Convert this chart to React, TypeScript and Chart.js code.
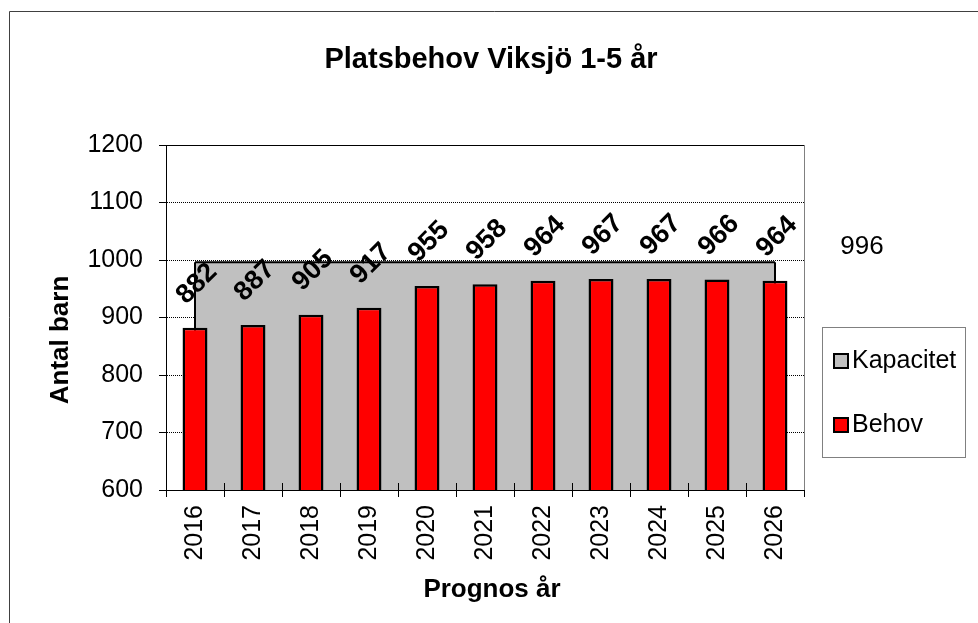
import React, { useEffect, useRef } from 'react';
import { Chart, registerables } from 'chart.js';

Chart.register(...registerables);

const FONT = '"Liberation Sans", Arial, Helvetica, sans-serif';

const chartTitle = 'Platsbehov Viksjö 1-5 år';
const xTitle = 'Prognos år';
const yTitle = 'Antal barn';
const years = ['2016', '2017', '2018', '2019', '2020', '2021', '2022', '2023', '2024', '2025', '2026'];
const behov = [882, 887, 905, 917, 955, 958, 964, 967, 967, 966, 964];
const kapacitet = [996, 996, 996, 996, 996, 996, 996, 996, 996, 996, 996];
const seriesNames = ['Kapacitet', 'Behov'];
const yMin = 600;
const yMax = 1200;
const yStep = 100;

const decor = {
  id: 'decor',
  beforeDraw(chart: any) {
    const ctx = chart.ctx;
    ctx.save();
    ctx.fillStyle = '#ffffff';
    ctx.fillRect(0, 0, chart.width, chart.height);
    ctx.strokeStyle = '#404040';
    ctx.lineWidth = 1;
    ctx.beginPath();
    ctx.moveTo(9.5, chart.height + 5);
    ctx.lineTo(9.5, 11.5);
    ctx.lineTo(chart.width + 5, 11.5);
    ctx.stroke();
    ctx.restore();
  },
  afterDatasetDraw(chart: any, args: any) {
    if (args.index !== 0) return;
    const ctx = chart.ctx;
    const pts = args.meta.data;
    const first = pts[0];
    const last = pts[pts.length - 1];
    const bottom = chart.chartArea.bottom;
    ctx.save();
    ctx.strokeStyle = '#000';
    ctx.lineWidth = 2;
    ctx.beginPath();
    ctx.moveTo(first.x, first.y);
    ctx.lineTo(first.x, bottom);
    ctx.moveTo(last.x, last.y);
    ctx.lineTo(last.x, bottom);
    ctx.stroke();
    ctx.restore();
  },
  afterDatasetsDraw(chart: any) {
    const ctx = chart.ctx;
    const area = chart.chartArea;
    ctx.save();
    // inner x tick marks
    const n = years.length;
    const step = (area.right - area.left) / n;
    ctx.strokeStyle = '#000';
    ctx.lineWidth = 1;
    ctx.beginPath();
    for (let i = 0; i <= n; i++) {
      const x = Math.round(area.left + i * step) + 0.5;
      ctx.moveTo(x, area.bottom - 7);
      ctx.lineTo(x, area.bottom);
    }
    ctx.stroke();
    // bar labels
    const meta = chart.getDatasetMeta(1);
    ctx.fillStyle = '#000';
    ctx.font = `bold 27px ${FONT}`;
    ctx.textAlign = 'center';
    ctx.textBaseline = 'middle';
    meta.data.forEach((bar: any, i: number) => {
      ctx.save();
      ctx.translate(bar.x + 2, bar.y - 44);
      ctx.rotate(-Math.PI / 4);
      ctx.fillText(String(behov[i]), 0, 0);
      ctx.restore();
    });
    // kapacitet label
    const km = chart.getDatasetMeta(0);
    const lp = km.data[km.data.length - 1];
    ctx.font = `26px ${FONT}`;
    ctx.fillText(String(kapacitet[kapacitet.length - 1]), lp.x + 87, lp.y - 15);
    ctx.restore();
  },
  afterDraw(chart: any) {
    const ctx = chart.ctx;
    const area = chart.chartArea;
    ctx.save();
    // plot frame top/right
    ctx.lineWidth = 1;
    ctx.strokeStyle = '#000';
    ctx.beginPath();
    ctx.moveTo(area.left, area.top + 0.5);
    ctx.lineTo(area.right, area.top + 0.5);
    ctx.stroke();
    ctx.strokeStyle = '#808080';
    ctx.beginPath();
    ctx.moveTo(area.right + 0.5, area.top);
    ctx.lineTo(area.right + 0.5, area.bottom);
    ctx.stroke();

    ctx.fillStyle = '#000';
    // title
    ctx.font = `bold 29px ${FONT}`;
    ctx.textAlign = 'center';
    ctx.textBaseline = 'alphabetic';
    ctx.fillText(chartTitle, 491, 68);
    // x title
    ctx.font = `bold 26px ${FONT}`;
    ctx.fillText(xTitle, 492, 597);
    // y title
    ctx.save();
    ctx.translate(68, 340);
    ctx.rotate(-Math.PI / 2);
    ctx.fillText(yTitle, 0, 0);
    ctx.restore();

    // legend
    ctx.strokeStyle = '#808080';
    ctx.lineWidth = 1;
    ctx.strokeRect(822.5, 327.5, 143, 130);
    const items = [
      { label: seriesNames[0], color: '#C0C0C0', y: 360 },
      { label: seriesNames[1], color: '#FF0000', y: 424 },
    ];
    ctx.font = `25px ${FONT}`;
    ctx.textAlign = 'left';
    ctx.textBaseline = 'middle';
    items.forEach((it) => {
      ctx.fillStyle = it.color;
      ctx.fillRect(834, it.y - 6, 14, 14);
      ctx.strokeStyle = '#000';
      ctx.lineWidth = 2;
      ctx.strokeRect(834, it.y - 6, 14, 14);
      ctx.fillStyle = '#000';
      ctx.fillText(it.label, 852, it.y + 1);
    });
    ctx.restore();
  },
};

export default function App() {
  const ref = useRef<HTMLCanvasElement | null>(null);
  useEffect(() => {
    if (!ref.current) return;
    Chart.defaults.font.family = FONT;
    const chart = new Chart(ref.current, {
      type: 'bar',
      data: {
        labels: years,
        datasets: [
          {
            type: 'line',
            label: seriesNames[0],
            data: kapacitet,
            borderColor: '#000',
            borderWidth: 2,
            backgroundColor: '#C0C0C0',
            fill: 'origin',
            pointRadius: 0,
            tension: 0,
            order: 2,
          } as any,
          {
            type: 'bar',
            label: seriesNames[1],
            data: behov,
            backgroundColor: '#FF0000',
            borderColor: '#000',
            borderWidth: 2.5,
            barPercentage: 0.43,
            categoryPercentage: 1,
            order: 1,
          },
        ],
      },
      options: {
        responsive: true,
        maintainAspectRatio: false,
        animation: false,
        layout: { padding: { left: 0, top: 145, right: 174, bottom: 0 } },
        plugins: {
          legend: { display: false },
          title: { display: false },
          tooltip: { enabled: false },
        },
        scales: {
          x: {
            offset: true,
            grid: {
              offset: true,
              drawOnChartArea: false,
              drawTicks: true,
              tickLength: 7,
              color: '#000',
              tickColor: '#000',
            },
            border: { display: true, color: '#000', width: 1 },
            ticks: {
              color: '#000',
              font: { size: 25, family: FONT },
              minRotation: 90,
              maxRotation: 90,
              padding: 8,
              autoSkip: false,
            },
            afterFit(scale: any) {
              scale.height = 133;
            },
          },
          y: {
            min: yMin,
            max: yMax,
            grid: {
              color: '#000',
              tickColor: '#000',
              tickLength: 7,
              tickBorderDash: [],
              lineWidth: 1,
            },
            border: { display: true, color: '#000', width: 1, dash: [1, 1] },
            ticks: {
              stepSize: yStep,
              color: '#000',
              font: { size: 25, family: FONT },
              padding: 16,
              callback: (v: any) => String(v),
            },
            afterFit(scale: any) {
              scale.width = 166;
            },
          },
        },
      },
      plugins: [decor],
    });
    return () => chart.destroy();
  }, []);
  return (
    <div style={{ position: 'absolute', left: 0, top: 0, width: 978, height: 623 }}>
      <canvas ref={ref} />
    </div>
  );
}
